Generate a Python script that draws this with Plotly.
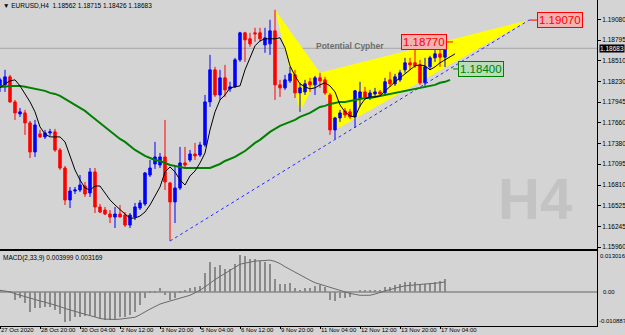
import plotly.graph_objects as go

# ---------------- data ----------------
bar_index = list(range(90))
opens = [1.18169, 1.18182, 1.18292, 1.17949, 1.17784, 1.17798, 1.17661, 1.17263, 1.17510, 1.17469,
         1.17524, 1.17538, 1.17290, 1.17043, 1.16605, 1.16728, 1.16742, 1.16796, 1.16701, 1.16989,
         1.16509, 1.16467, 1.16412, 1.16371, 1.16412, 1.16398, 1.16261, 1.16371, 1.16495, 1.16550,
         1.16947, 1.17098, 1.17084, 1.17194, 1.16838, 1.16578, 1.16769, 1.17112, 1.17153, 1.17235,
         1.17221, 1.17359, 1.17949, 1.18388, 1.18044, 1.18278, 1.18127, 1.18155, 1.18525, 1.18895,
         1.18813, 1.18895, 1.18895, 1.18730, 1.18744, 1.18922, 1.18182, 1.18141, 1.18237, 1.18319,
         1.18072, 1.18086, 1.18224, 1.18182, 1.18278, 1.18251, 1.18044, 1.17565, 1.17729, 1.17825,
         1.17812, 1.17743, 1.18003, 1.18086, 1.18003, 1.18058, 1.18086, 1.18072, 1.18251, 1.18196,
         1.18251, 1.18388, 1.18484, 1.18484, 1.18456, 1.18210, 1.18429, 1.18552, 1.18607, 1.18562]
highs = [1.18278, 1.18388, 1.18319, 1.17976, 1.17866, 1.17839, 1.17688, 1.17702, 1.17565, 1.17565,
         1.17579, 1.17579, 1.17318, 1.17071, 1.16783, 1.16783, 1.16947, 1.16852, 1.17043, 1.17043,
         1.16550, 1.16509, 1.16467, 1.16509, 1.16536, 1.16440, 1.16426, 1.16564, 1.16605, 1.16989,
         1.17153, 1.17401, 1.17249, 1.17702, 1.16852, 1.17057, 1.17332, 1.17332, 1.17290, 1.17387,
         1.17401, 1.18044, 1.18593, 1.18429, 1.18388, 1.18456, 1.18224, 1.18552, 1.18909, 1.18909,
         1.18895, 1.18964, 1.18964, 1.18964, 1.19074, 1.19211, 1.18251, 1.18319, 1.18429, 1.18388,
         1.18210, 1.18251, 1.18278, 1.18305, 1.18347, 1.18292, 1.18072, 1.17743, 1.17839, 1.17866,
         1.17853, 1.18113, 1.18224, 1.18155, 1.18113, 1.18141, 1.18113, 1.18278, 1.18361, 1.18333,
         1.18388, 1.18552, 1.18552, 1.18770, 1.18525, 1.18552, 1.18580, 1.18690, 1.18676, 1.18715]
lows = [1.18086, 1.18086, 1.17935, 1.17702, 1.17743, 1.17496, 1.17180, 1.17194, 1.17455, 1.17441,
        1.17483, 1.17263, 1.17016, 1.16536, 1.16495, 1.16687, 1.16715, 1.16646, 1.16646, 1.16426,
        1.16426, 1.16398, 1.16289, 1.16220, 1.16371, 1.16234, 1.16220, 1.16330, 1.16467, 1.16523,
        1.16920, 1.17030, 1.17043, 1.16742, 1.16042, 1.16289, 1.16742, 1.17057, 1.17126, 1.17153,
        1.17194, 1.17332, 1.17880, 1.18017, 1.17976, 1.18017, 1.18086, 1.18141, 1.18497, 1.18497,
        1.18703, 1.18772, 1.18772, 1.18621, 1.18593, 1.17976, 1.18017, 1.18113, 1.18210, 1.18003,
        1.17812, 1.18044, 1.18086, 1.18044, 1.18141, 1.18044, 1.17496, 1.17441, 1.17674, 1.17729,
        1.17715, 1.17592, 1.17880, 1.17976, 1.17976, 1.18017, 1.18017, 1.18031, 1.18155, 1.18168,
        1.18224, 1.18347, 1.18388, 1.18416, 1.18182, 1.18168, 1.18388, 1.18497, 1.18429, 1.18426]
closes = [1.18251, 1.18292, 1.17949, 1.17798, 1.17812, 1.17661, 1.17263, 1.17633, 1.17469, 1.17524,
          1.17538, 1.17290, 1.17043, 1.16605, 1.16728, 1.16742, 1.16810, 1.16687, 1.16989, 1.16509,
          1.16440, 1.16412, 1.16371, 1.16412, 1.16371, 1.16261, 1.16398, 1.16509, 1.16564, 1.16975,
          1.17043, 1.17194, 1.17194, 1.16852, 1.16578, 1.16769, 1.17112, 1.17084, 1.17235, 1.17208,
          1.17359, 1.17949, 1.18388, 1.18044, 1.18278, 1.18113, 1.18155, 1.18525, 1.18895, 1.18799,
          1.18744, 1.18881, 1.18813, 1.18826, 1.18922, 1.18182, 1.18141, 1.18251, 1.18333, 1.18072,
          1.18141, 1.18196, 1.18182, 1.18278, 1.18237, 1.18072, 1.17565, 1.17729, 1.17798, 1.17770,
          1.17743, 1.18100, 1.18086, 1.18017, 1.18072, 1.18086, 1.18058, 1.18224, 1.18196, 1.18292,
          1.18347, 1.18484, 1.18456, 1.18443, 1.18210, 1.18429, 1.18552, 1.18607, 1.18562, 1.18683]

# moving averages (drawn with a forward shift, so they run past the last bar)
ma_fast = [1.18141, 1.18196, 1.18237, 1.18251, 1.18168, 1.18058, 1.17949, 1.17812, 1.17606, 1.17510,
           1.17469, 1.17469, 1.17469, 1.17401, 1.17194, 1.17016, 1.16879, 1.16769, 1.16742, 1.16796,
           1.16796, 1.16701, 1.16605, 1.16536, 1.16467, 1.16412, 1.16357, 1.16357, 1.16385, 1.16440,
           1.16536, 1.16660, 1.16783, 1.16989, 1.17057, 1.16989, 1.16879, 1.16810, 1.16934, 1.17002,
           1.17112, 1.17249, 1.17565, 1.17812, 1.17976, 1.18044, 1.18141, 1.18155, 1.18168, 1.18388,
           1.18566, 1.18717, 1.18786, 1.18813, 1.18813, 1.18813, 1.18827, 1.18690, 1.18443, 1.18305,
           1.18196, 1.18155, 1.18127, 1.18141, 1.18182, 1.18210, 1.18168, 1.18086, 1.17907, 1.17812,
           1.17757, 1.17743, 1.17894, 1.17990, 1.18017, 1.18017, 1.18031, 1.18100, 1.18168, 1.18224,
           1.18278, 1.18333, 1.18388, 1.18443, 1.18456, 1.18443, 1.18388, 1.18429, 1.18484, 1.18525,
           1.18566, 1.18607]
ma_slow = [1.18155, 1.18155, 1.18168, 1.18168, 1.18168, 1.18155, 1.18141, 1.18127, 1.18113, 1.18100,
           1.18072, 1.18058, 1.18031, 1.17990, 1.17949, 1.17907, 1.17866, 1.17825, 1.17770, 1.17715,
           1.17661, 1.17606, 1.17551, 1.17496, 1.17441, 1.17401, 1.17346, 1.17290, 1.17249, 1.17208,
           1.17180, 1.17153, 1.17139, 1.17112, 1.17084, 1.17071, 1.17057, 1.17043, 1.17043, 1.17043,
           1.17043, 1.17043, 1.17043, 1.17071, 1.17098, 1.17139, 1.17167, 1.17194, 1.17235, 1.17276,
           1.17332, 1.17387, 1.17428, 1.17483, 1.17538, 1.17579, 1.17620, 1.17647, 1.17674, 1.17702,
           1.17743, 1.17770, 1.17798, 1.17839, 1.17880, 1.17894, 1.17921, 1.17935, 1.17949, 1.17949,
           1.17962, 1.17976, 1.17990, 1.18003, 1.18003, 1.18017, 1.18031, 1.18044, 1.18058, 1.18072,
           1.18086, 1.18100, 1.18113, 1.18127, 1.18141, 1.18155, 1.18168, 1.18182, 1.18210, 1.18224,
           1.18251]

macd_main = [0.0003, 0.0002, -0.0005, -0.0026, -0.0021, -0.0037, -0.0063, -0.0053, -0.0053, -0.0048,
             -0.0048, -0.0058, -0.0069, -0.0095, -0.0092, -0.0081, -0.0079, -0.0077, -0.0074, -0.0081,
             -0.0088, -0.0090, -0.0090, -0.0085, -0.0081, -0.0081, -0.0074, -0.0063, -0.0042, -0.0021,
             -0.0005, -0.0003, 0.0011, -0.0011, -0.0026, -0.0021, -0.0005, 0.0005, 0.0013, 0.0016,
             0.0018, 0.0060, 0.0095, 0.0079, 0.0085, 0.0074, 0.0074, 0.0090, 0.0116, 0.0113,
             0.0106, 0.0106, 0.0098, 0.0095, 0.0090, 0.0042, 0.0026, 0.0026, 0.0029, 0.0011,
             0.0007, 0.0011, 0.0011, 0.0018, 0.0021, 0.0016, -0.0026, -0.0029, -0.0021, -0.0018,
             -0.0016, 0.0000, 0.0005, 0.0005, 0.0005, 0.0005, 0.0005, 0.0016, 0.0016, 0.0021,
             0.0026, 0.0032, 0.0032, 0.0032, 0.0026, 0.0026, 0.0029, 0.0032, 0.0034, 0.003999]
macd_signal = [0.0005, 0.0003, 0.0000, -0.0006, -0.0011, -0.0016, -0.0021, -0.0025, -0.0029, -0.0033,
               -0.0037, -0.0042, -0.0047, -0.0053, -0.0058, -0.0062, -0.0067, -0.0071, -0.0076, -0.0080,
               -0.0085, -0.0087, -0.0088, -0.0088, -0.0087, -0.0085, -0.0083, -0.0081, -0.0073, -0.0063,
               -0.0055, -0.0047, -0.0039, -0.0034, -0.0029, -0.0024, -0.0019, -0.0015, -0.0011, -0.0003,
               0.0005, 0.0016, 0.0028, 0.0039, 0.0049, 0.0058, 0.0067, 0.0078, 0.0088, 0.0092,
               0.0095, 0.0098, 0.0099, 0.0100, 0.0101, 0.0097, 0.0090, 0.0080, 0.0071, 0.0063,
               0.0054, 0.0046, 0.0037, 0.0029, 0.0024, 0.0020, 0.0014, 0.0008, 0.0003, -0.0001,
               -0.0005, -0.0008, -0.0011, -0.0011, -0.0011, -0.0007, -0.0001, 0.0003, 0.0007, 0.0012,
               0.0016, 0.0019, 0.0021, 0.0023, 0.0024, 0.0025, 0.0026, 0.0027, 0.0029, 0.003169]

tick_index = [0, 8, 16, 24, 32, 40, 48, 56, 64, 72, 80, 88]
tick_labels = ["27 Oct 2020", "28 Oct 20:00", "30 Oct 04:00", "2 Nov 12:00", "3 Nov 20:00",
               "5 Nov 04:00", "6 Nov 12:00", "9 Nov 20:00", "11 Nov 04:00", "12 Nov 12:00",
               "13 Nov 20:00", "17 Nov 04:00"]
price_ticks = [1.19080, 1.18795, 1.18510, 1.18230, 1.17945, 1.17660, 1.17380,
               1.17095, 1.16810, 1.16525, 1.16245, 1.15960]

# Cypher pattern points X, A, B, C, D
pattern_index = [55, 60, 64, 67, 105.8]
pattern_price = [1.19211, 1.17812, 1.18347, 1.17565, 1.19070]
# trend line from swing low to D
trend_index = [34, 105.8]
trend_price = [1.16042, 1.19070]
# price labels
label_prices = [1.18770, 1.19070, 1.18400]
label_index = [89.4, 107.4, 91.6]
label_line_from = [90.6, 105.8, 90.6]

macd_top, macd_bottom = 0.013016, -0.010887

# ---------------- figure ----------------
BG = "#d4d4d4"
FONT = "Liberation Sans"
fig = go.Figure()

# trend line
fig.add_trace(go.Scatter(x=trend_index, y=trend_price, mode="lines",
                         line=dict(color="#2a2aff", width=1, dash="dot"),
                         xaxis="x", yaxis="y", showlegend=False))

# candles
fig.add_trace(go.Candlestick(x=bar_index, open=opens, high=highs, low=lows, close=closes,
                             increasing=dict(line=dict(color="#0000ff", width=1), fillcolor="#0000ff"),
                             decreasing=dict(line=dict(color="#ff0000", width=1), fillcolor="#ff0000"),
                             whiskerwidth=0, xaxis="x", yaxis="y", showlegend=False))

# moving averages
fig.add_trace(go.Scatter(x=list(range(len(ma_slow))), y=ma_slow, mode="lines",
                         line=dict(color="#008000", width=2), xaxis="x", yaxis="y", showlegend=False))
fig.add_trace(go.Scatter(x=list(range(len(ma_fast))), y=ma_fast, mode="lines",
                         line=dict(color="#000000", width=1), xaxis="x", yaxis="y", showlegend=False))

# MACD
fig.add_trace(go.Bar(x=bar_index, y=macd_main, width=0.22, marker=dict(color="#8a8a8a", line=dict(width=0)),
                     xaxis="x2", yaxis="y2", showlegend=False))
fig.add_trace(go.Scatter(x=bar_index, y=macd_signal, mode="lines", line=dict(color="#6a6a6a", width=1),
                         xaxis="x2", yaxis="y2", showlegend=False))

xr = [0.0, 119.4]
main_dom = [0.2362, 1.0]
macd_dom = [0.0, 0.2301]

shapes = []
# yellow pattern triangles (below the candles)
for tri in (range(0, 3), range(2, 5)):
    pts = [(pattern_index[i], pattern_price[i]) for i in tri]
    path = "M %s,%s L %s,%s L %s,%s Z" % (pts[0][0], pts[0][1], pts[1][0], pts[1][1], pts[2][0], pts[2][1])
    shapes.append(dict(type="path", xref="x", yref="y", path=path, fillcolor="#ffff00",
                       line=dict(width=0), layer="below"))
# current bid line
shapes.append(dict(type="line", xref="paper", x0=0, x1=1, yref="y", y0=closes[-1], y1=closes[-1],
                   line=dict(color="#a6a6a6", width=1), layer="below"))
# label connector lines
label_colors = ["#ff0000", "#ff0000", "#008000"]
for p, a, b, c in zip(label_prices, label_index, label_line_from, label_colors):
    shapes.append(dict(type="line", xref="x", yref="y", x0=a, x1=b, y0=p, y1=p,
                       line=dict(color=c, width=1)))

annotations = []
# header
annotations.append(dict(xref="paper", yref="paper", x=0.002, y=1.0, xanchor="left", yanchor="top",
                        text="▼ EURUSD,H4  %.5f %.5f %.5f %.5f" % (opens[-1], highs[-1], lows[-1], closes[-1]),
                        showarrow=False, font=dict(family=FONT, size=6.5, color="#000000")))
# macd header
annotations.append(dict(xref="paper", yref="paper", x=0.002, y=macd_dom[1], xanchor="left", yanchor="top",
                        yshift=-1,
                        text="MACD(2,33,9) %.6f %.6f" % (macd_main[-1], macd_signal[-1]),
                        showarrow=False, font=dict(family=FONT, size=6.5, color="#000000")))
# pattern name
annotations.append(dict(xref="x", yref="y", x=70, y=1.18717, text="<b>Potential Cypher</b>",
                        showarrow=False, font=dict(family=FONT, size=8.5, color="#6e6e6e")))
# watermark
annotations.append(dict(xref="paper", yref="paper", x=0.962, y=0.39, xanchor="right", text="<b>H4</b>",
                        showarrow=False, font=dict(family=FONT, size=58, color="#c3c3c3")))
# price labels
label_style = [("#ff0000", "#f3b3b3", "right"), ("#ff0000", "#f3b3b3", "left"), ("#008000", "#b9dcb9", "left")]
for p, a, (fc, bg, anc) in zip(label_prices, label_index, label_style):
    annotations.append(dict(xref="x", yref="y", x=a, y=p, xanchor=anc, yanchor="middle",
                            text="%.5f" % p, showarrow=False, bgcolor=bg, bordercolor=fc,
                            borderwidth=1, borderpad=1,
                            font=dict(family=FONT, size=11.5, color=fc)))
# current price tag
annotations.append(dict(xref="paper", yref="y", x=1.0, y=closes[-1], xanchor="left", yanchor="middle",
                        xshift=2, text="%.5f" % closes[-1], showarrow=False, bgcolor="#000000",
                        borderpad=0, font=dict(family=FONT, size=6.5, color="#ffffff")))
# macd scale labels
annotations.append(dict(xref="paper", yref="paper", x=1.0, y=macd_dom[1], xanchor="left", yanchor="top",
                        xshift=1, text="%.6f" % macd_top, showarrow=False,
                        font=dict(family=FONT, size=6, color="#000000")))
annotations.append(dict(xref="paper", yref="y2", x=1.0, y=0, xanchor="left", yanchor="middle",
                        xshift=4, text="0.00", showarrow=False,
                        font=dict(family=FONT, size=6, color="#000000")))
annotations.append(dict(xref="paper", yref="paper", x=1.0, y=macd_dom[0], xanchor="left", yanchor="bottom",
                        xshift=0, text="%.6f" % macd_bottom, showarrow=False,
                        font=dict(family=FONT, size=6, color="#000000")))

fig.update_layout(
    width=625, height=335,
    margin=dict(l=0, r=28, t=0, b=9),
    paper_bgcolor=BG, plot_bgcolor=BG,
    showlegend=False,
    font=dict(family=FONT, size=6.5, color="#000000"),
    xaxis=dict(domain=[0, 1], range=xr, anchor="y", showgrid=False, zeroline=False,
               showline=True, linecolor="#000000", linewidth=2, showticklabels=False,
               ticks="", rangeslider=dict(visible=False)),
    yaxis=dict(domain=main_dom, range=[1.15933, 1.19345], side="right", anchor="x",
               showgrid=False, zeroline=False, showline=True, linecolor="#000000", linewidth=1,
               ticks="outside", ticklen=3, tickcolor="#000000",
               tickvals=price_ticks, ticktext=["%.5f" % v for v in price_ticks],
               tickfont=dict(family=FONT, size=6.5, color="#000000")),
    xaxis2=dict(domain=[0, 1], range=xr, anchor="y2", showgrid=False, zeroline=False,
                showline=True, linecolor="#000000", linewidth=1,
                ticks="outside", ticklen=2, tickcolor="#000000",
                tickvals=tick_index, ticktext=tick_labels, ticklabelposition="outside right",
                ticklabelstandoff=-2, tickangle=0,
                tickfont=dict(family=FONT, size=6, color="#000000"), automargin=False),
    yaxis2=dict(domain=macd_dom, range=[macd_bottom, macd_top], side="right", anchor="x2",
                showgrid=False, zeroline=True, zerolinecolor="#9c9c9c", zerolinewidth=2,
                showline=True, linecolor="#000000", linewidth=1, showticklabels=False, ticks=""),
    shapes=shapes,
    annotations=annotations,
    bargap=0,
)

fig.write_html("out.html")
